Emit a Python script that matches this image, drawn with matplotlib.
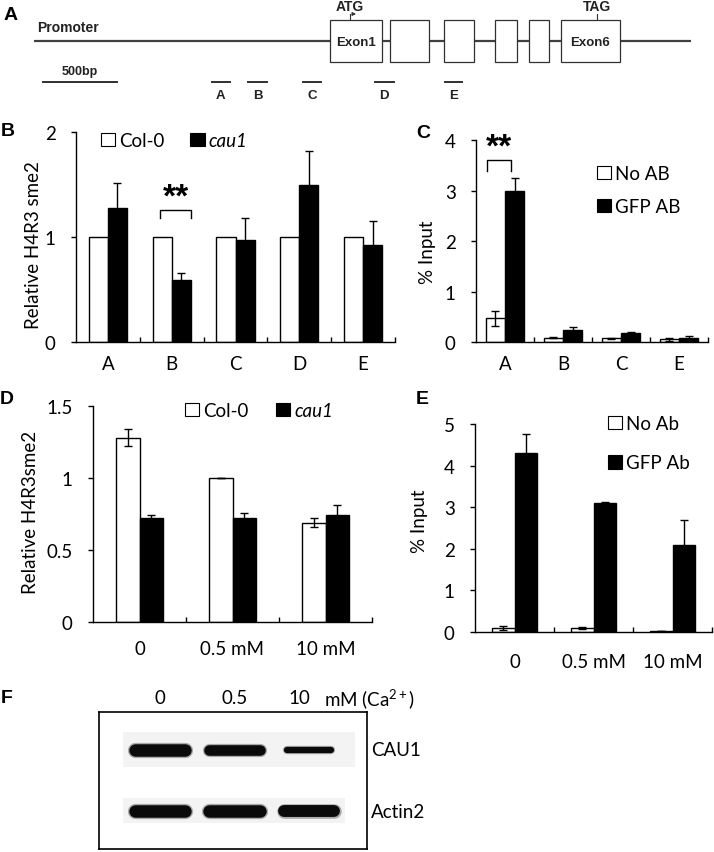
import numpy as np
import matplotlib
matplotlib.use('Agg')
from matplotlib import pyplot as plt
from matplotlib.patches import Rectangle, Patch

plt.rcParams['font.family'] = ['Lato', 'DejaVu Sans']
plt.rcParams['mathtext.fontset'] = 'custom'
plt.rcParams['mathtext.rm'] = 'Lato'
plt.rcParams['mathtext.it'] = 'Lato:italic'

# ---- data ----
# A: gene model (bp from start of drawn promoter line)
gene_len = 4440
exons = [(2000, 2350), (2405, 2670), (2770, 2975), (3115, 3265), (3345, 3480), (3560, 3960)]
primer_names = ['A', 'B', 'C', 'D', 'E']
primer_pos = [(1200, 1325), (1445, 1575), (1820, 1940), (2305, 2430), (2775, 2890)]
scale_bp = 500

# B: relative H4R3sme2, Col-0 vs cau1
b_regions = ['A', 'B', 'C', 'D', 'E']
b_col0 = [1, 1, 1, 1, 1]
b_cau1 = [1.28, 0.59, 0.97, 1.50, 0.92]
b_cau1_err = [0.23, 0.07, 0.21, 0.32, 0.23]

# C: ChIP % input
c_regions = ['A', 'B', 'C', 'E']
c_noab = [0.47, 0.08, 0.07, 0.05]
c_noab_err = [0.15, 0.01, 0.01, 0.03]
c_gfp = [3.0, 0.24, 0.17, 0.08]
c_gfp_err = [0.25, 0.06, 0.02, 0.03]

# D: relative H4R3sme2 under Ca2+
ca_conc = ['0', '0.5 mM', '10 mM']
d_col0 = [1.28, 1.0, 0.69]
d_col0_err = [0.06, 0, 0.03]
d_cau1 = [0.72, 0.72, 0.74]
d_cau1_err = [0.02, 0.04, 0.07]

# E: ChIP % input under Ca2+
e_noab = [0.10, 0.10, 0.02]
e_noab_err = [0.05, 0.03, 0.0]
e_gfp = [4.3, 3.1, 2.1]
e_gfp_err = [0.45, 0.03, 0.6]

# F: western blot
blot_lanes = ['0', '0.5', '10']
blot_rows = ['CAU1', 'Actin2']
cau1_band = [1.0, 0.85, 0.5]
actin_band = [1.0, 1.0, 0.95]

FS = 13.5
W, H = 714, 853
fig = plt.figure(figsize=(W / 100, H / 100), dpi=100)


def px_axes(x0, y0, x1, y1):
    return fig.add_axes([x0 / W, 1 - y1 / H, (x1 - x0) / W, (y1 - y0) / H])


def fxy(x, y):
    return (x / W, 1 - y / H)


def panel_letter(s, x, y):
    fig.text(*fxy(x, y), s, family='Liberation Sans', weight='bold', fontsize=14,
             ha='center', va='center')


def bar_panel(ax, labels, white, white_err, black, black_err, width, ymax, yticks,
              ytl, xpad):
    x = np.arange(len(labels))
    ekw = dict(elinewidth=1, capsize=3, capthick=1, ecolor='black')
    ax.bar(x - width / 2, white, width, color='white', edgecolor='black', lw=1,
           yerr=white_err, error_kw=ekw, zorder=2)
    ax.bar(x + width / 2, black, width, color='black', edgecolor='black', lw=1,
           yerr=black_err, error_kw=ekw, zorder=2)
    ax.set_xlim(-0.5, len(labels) - 0.5)
    ax.set_ylim(0, ymax)
    ax.set_xticks(x)
    ax.set_xticklabels(labels)
    ax.set_xticks(x + 0.5, minor=True)
    ax.set_yticks(yticks)
    ax.set_yticklabels(ytl)
    ax.tick_params(axis='x', which='major', length=0, pad=xpad, labelsize=FS)
    ax.tick_params(axis='x', which='minor', direction='in', length=3.6, width=1)
    ax.tick_params(axis='y', length=3.6, width=1, pad=11, labelsize=FS)
    for s in ['top', 'right']:
        ax.spines[s].set_visible(False)
    for s in ['left', 'bottom']:
        ax.spines[s].set_linewidth(1)
    ax.patch.set_alpha(0)


def legend(ax, labels, x, y, ncol, colsp=1.6, lsp=0.5, italic2=False):
    h = [Patch(fc='white', ec='black', lw=0.8), Patch(fc='black', ec='black', lw=0.8)]
    leg = ax.legend(h, labels, ncol=ncol, frameon=False, loc='upper left',
                    bbox_to_anchor=fxy(x, y), bbox_transform=fig.transFigure,
                    borderaxespad=0, borderpad=0, handlelength=0.75, handleheight=0.75,
                    handletextpad=0.2, columnspacing=colsp, labelspacing=lsp,
                    fontsize=FS)
    if italic2:
        leg.get_texts()[1].set_style('italic')


# ---- A: gene model ----
ax_a = px_axes(34, 0, 691, 105)
ax_a.set_xlim(0, gene_len)
ax_a.set_ylim(105, 0)
ax_a.axis('off')
ax_a.plot([0, gene_len], [42, 42], color='#404040', lw=1.6, zorder=1)
for i, (s, e) in enumerate(exons):
    ax_a.add_patch(Rectangle((s, 21), e - s, 42, fc='white', ec='#303030', lw=0.9, zorder=3))
bold = dict(family='Liberation Sans', weight='bold', color='#222222')
ax_a.text(np.mean(exons[0]), 43, 'Exon1', ha='center', va='center', fontsize=9.5, zorder=4, **bold)
ax_a.text(np.mean(exons[-1]), 43, 'Exon6', ha='center', va='center', fontsize=9.5, zorder=4, **bold)
ax_a.text(20, 28, 'Promoter', ha='left', va='center', fontsize=10, **bold)
x_atg = exons[0][0] + 135
ax_a.plot([x_atg, x_atg], [21, 15], color='#303030', lw=0.8)
ax_a.annotate('', xy=(x_atg + 60, 15), xytext=(x_atg, 15),
              arrowprops=dict(arrowstyle='-|>', lw=0.8, color='#303030', mutation_scale=5))
ax_a.text(x_atg, 7, 'ATG', ha='center', va='center', fontsize=10, **bold)
x_tag = exons[-1][0] + 245
ax_a.plot([x_tag, x_tag], [21, 15], color='#303030', lw=0.8)
ax_a.text(x_tag, 7, 'TAG', ha='center', va='center', fontsize=10, **bold)
ax_a.plot([61, 61 + scale_bp], [83, 83], color='#303030', lw=1.4)
ax_a.text(61 + scale_bp / 2, 72, '%dbp' % scale_bp, ha='center', va='center', fontsize=9, **bold)
for name, (s, e) in zip(primer_names, primer_pos):
    ax_a.plot([s, e], [83, 83], color='#303030', lw=1.4)
    ax_a.text((s + e) / 2, 96, name, ha='center', va='center', fontsize=9.5, **bold)

# ---- B ----
ax_b = px_axes(76, 133, 395, 343)
bar_panel(ax_b, b_regions, b_col0, None, b_cau1, b_cau1_err, 0.3, 2, [0, 1, 2],
          ['0', '1', '2'], 9)
legend(ax_b, ['Col-0', 'cau1'], 101, 133, 2, colsp=1.4, italic2=True)
ax_b.plot([0.82, 0.82, 1.30, 1.30], [1.18, 1.26, 1.26, 1.18], color='black', lw=1)
ax_b.text(1.07, 1.23, '**', ha='center', va='bottom', fontsize=24, weight='bold',
          family='Liberation Sans')
fig.text(*fxy(34, 245), 'Relative H4R3 sme2', rotation=90, ha='center', va='center', fontsize=FS)

# ---- C ----
ax_c = px_axes(476, 141, 708, 343)
bar_panel(ax_c, c_regions, c_noab, c_noab_err, c_gfp, c_gfp_err, 0.33, 4, [0, 1, 2, 3, 4],
          ['0', '1', '2', '3', '4'], 9)
legend(ax_c, ['No AB', 'GFP AB'], 597, 166, 1, lsp=0.85)
ax_c.plot([-0.31, -0.31, 0.10, 0.10], [3.38, 3.6, 3.6, 3.38], color='black', lw=1)
ax_c.text(-0.1, 3.56, '**', ha='center', va='bottom', fontsize=24, weight='bold',
          family='Liberation Sans')
fig.text(*fxy(428, 252), '% Input', rotation=90, ha='center', va='center', fontsize=FS)

# ---- D ----
ax_d = px_axes(93, 407, 372, 623)
bar_panel(ax_d, ca_conc, d_col0, d_col0_err, d_cau1, d_cau1_err, 0.25, 1.5,
          [0, 0.5, 1, 1.5], ['0', '0.5', '1', '1.5'], 13)
legend(ax_d, ['Col-0', 'cau1'], 185, 403, 2, colsp=1.5, italic2=True)
fig.text(*fxy(30, 512), 'Relative H4R3sme2', rotation=90, ha='center', va='center', fontsize=FS)

# ---- E ----
ax_e = px_axes(475, 425, 712, 633)
bar_panel(ax_e, ca_conc, e_noab, e_noab_err, e_gfp, e_gfp_err, 0.28, 5,
          [0, 1, 2, 3, 4, 5], ['0', '1', '2', '3', '4', '5'], 15)
legend(ax_e, ['No Ab', 'GFP Ab'], 608, 416, 1, lsp=1.2)
fig.text(*fxy(420, 521), '% Input', rotation=90, ha='center', va='center', fontsize=FS)

# ---- F: western blot ----
ax_f = px_axes(99, 713, 367, 850)
ax_f.set_xlim(-0.82, 2.78)
ax_f.set_ylim(1.62, -0.62)
ax_f.set_xticks([])
ax_f.set_yticks([])
for s in ax_f.spines.values():
    s.set_linewidth(1.2)
ax_f.add_patch(Rectangle((-0.5, -0.3), 3.12, 0.58, fc='#f3f3f3', ec='none'))
ax_f.add_patch(Rectangle((-0.5, 0.79), 2.98, 0.41, fc='#f3f3f3', ec='none'))
for row, band in enumerate([cau1_band, actin_band]):
    for lane, v in enumerate(band):
        half = 0.34 if v > 0.6 else 0.3
        ax_f.plot([lane - half, lane + half], [row, row], color='#222222', lw=10 * v + 1,
                  solid_capstyle='round', alpha=0.35)
        ax_f.plot([lane - half, lane + half], [row, row], color='#0a0a0a', lw=9 * v,
                  solid_capstyle='round')
    ax_f.text(1.015, row, blot_rows[row], transform=ax_f.get_yaxis_transform(),
              ha='left', va='center', fontsize=FS, clip_on=False)
for lane, lab in enumerate(blot_lanes):
    xoff = -0.13 if lane == 2 else 0
    ax_f.text(lane + xoff, -0.85, lab, ha='center', va='center', fontsize=FS, clip_on=False)
fig.text(*fxy(324, 699), r'mM (Ca$^{2+}$)', ha='left', va='center', fontsize=FS)

panel_letter('A', 11, 15)
panel_letter('B', 8, 132)
panel_letter('C', 423, 134)
panel_letter('D', 7, 400)
panel_letter('E', 422, 400)
panel_letter('F', 7, 699)

fig.savefig('out.png', dpi=100)
